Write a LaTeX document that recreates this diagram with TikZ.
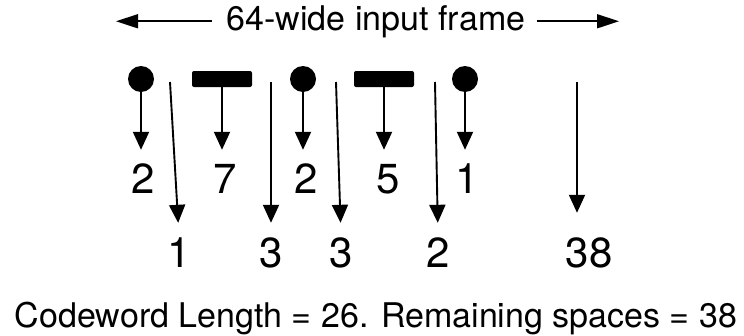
\documentclass[tikz,border=0pt]{standalone}
\usepackage{fontspec}
\setmainfont{TeX Gyre Heros}
\usetikzlibrary{arrows.meta}
\tikzset{
  dot/.style={circle, fill=black, inner sep=0pt, minimum size=26pt},
  bar/.style={rectangle, fill=black, rounded corners=2pt, inner sep=0pt, minimum width=60pt, minimum height=16pt},
  digit/.style={font=\fontsize{42}{42}\selectfont, inner sep=0pt, text height=30pt, text depth=0pt, anchor=base},
  caption/.style={font=\fontsize{34}{40}\selectfont, inner sep=0pt, anchor=base},
  flow/.style={line width=1.9pt, -{Triangle[length=18pt,width=16pt]}},
  span/.style={line width=1.6pt, -{Triangle[length=22pt,width=14pt]}}
}
\begin{document}
\begin{tikzpicture}[x=1pt, y=-1pt]
\useasboundingbox (0,0) rectangle (744,335);
% title and frame arrows
\node[caption] (title) at (376,30) {64-wide input frame};
\coordinate (lend) at (116,20);
\coordinate (rend) at (619,20);
\draw[span, shorten <=15pt] (title.west) -- (title.west -| lend);
\draw[span, shorten <=12pt] (title.east) -- (title.east -| rend);
% symbols
\node[dot] (c1) at (141,79) {};
\node[bar] (r1) at (222,79) {};
\node[dot] (c2) at (303,79) {};
\node[bar] (r2) at (384,79) {};
\node[dot] (c3) at (465,79) {};
% top-row labels
\node[digit] (t1) at (143,193) {2};
\node[digit] (t2) at (225,193) {7};
\node[digit] (t3) at (306,193) {2};
\node[digit] (t4) at (388,193) {5};
\node[digit] (t5) at (467,193) {1};
\draw[flow, shorten >=13pt] (c1.south) -- (c1.south |- t1.north);
\draw[flow, shorten >=13pt] (r1.south) -- (r1.south |- t2.north);
\draw[flow, shorten >=13pt] (c2.south) -- (c2.south |- t3.north);
\draw[flow, shorten >=13pt] (r2.south) -- (r2.south |- t4.north);
\draw[flow, shorten >=13pt] (c3.south) -- (c3.south |- t5.north);
% gap arrows
\coordinate (s1) at (170,82);
\coordinate (s2) at (271,82);
\coordinate (s3) at (336,82);
\coordinate (s4) at (435,82);
\coordinate (s5) at (577,82);
\node[digit] (b1) at (179,267) {1};
\node[digit] (b2) at (271,267) {3};
\node[digit] (b3) at (341,267) {3};
\node[digit] (b4) at (438,267) {2};
\node[digit] (b5) at (589,267) {38};
\draw[flow, shorten >=14pt] (s1) -- (b1.north);
\draw[flow, shorten >=14pt] (s2) -- (b2.north);
\draw[flow, shorten >=14pt] (s3) -- (b3.north);
\draw[flow, shorten >=14pt] (s4) -- (b4.north);
\draw[flow, shorten >=24pt] (s5) -- (s5 |- b5.north);
% footer
\node[caption] (foot) at (376,327) {Codeword Length = 26. Remaining spaces = 38};
\end{tikzpicture}
\end{document}
